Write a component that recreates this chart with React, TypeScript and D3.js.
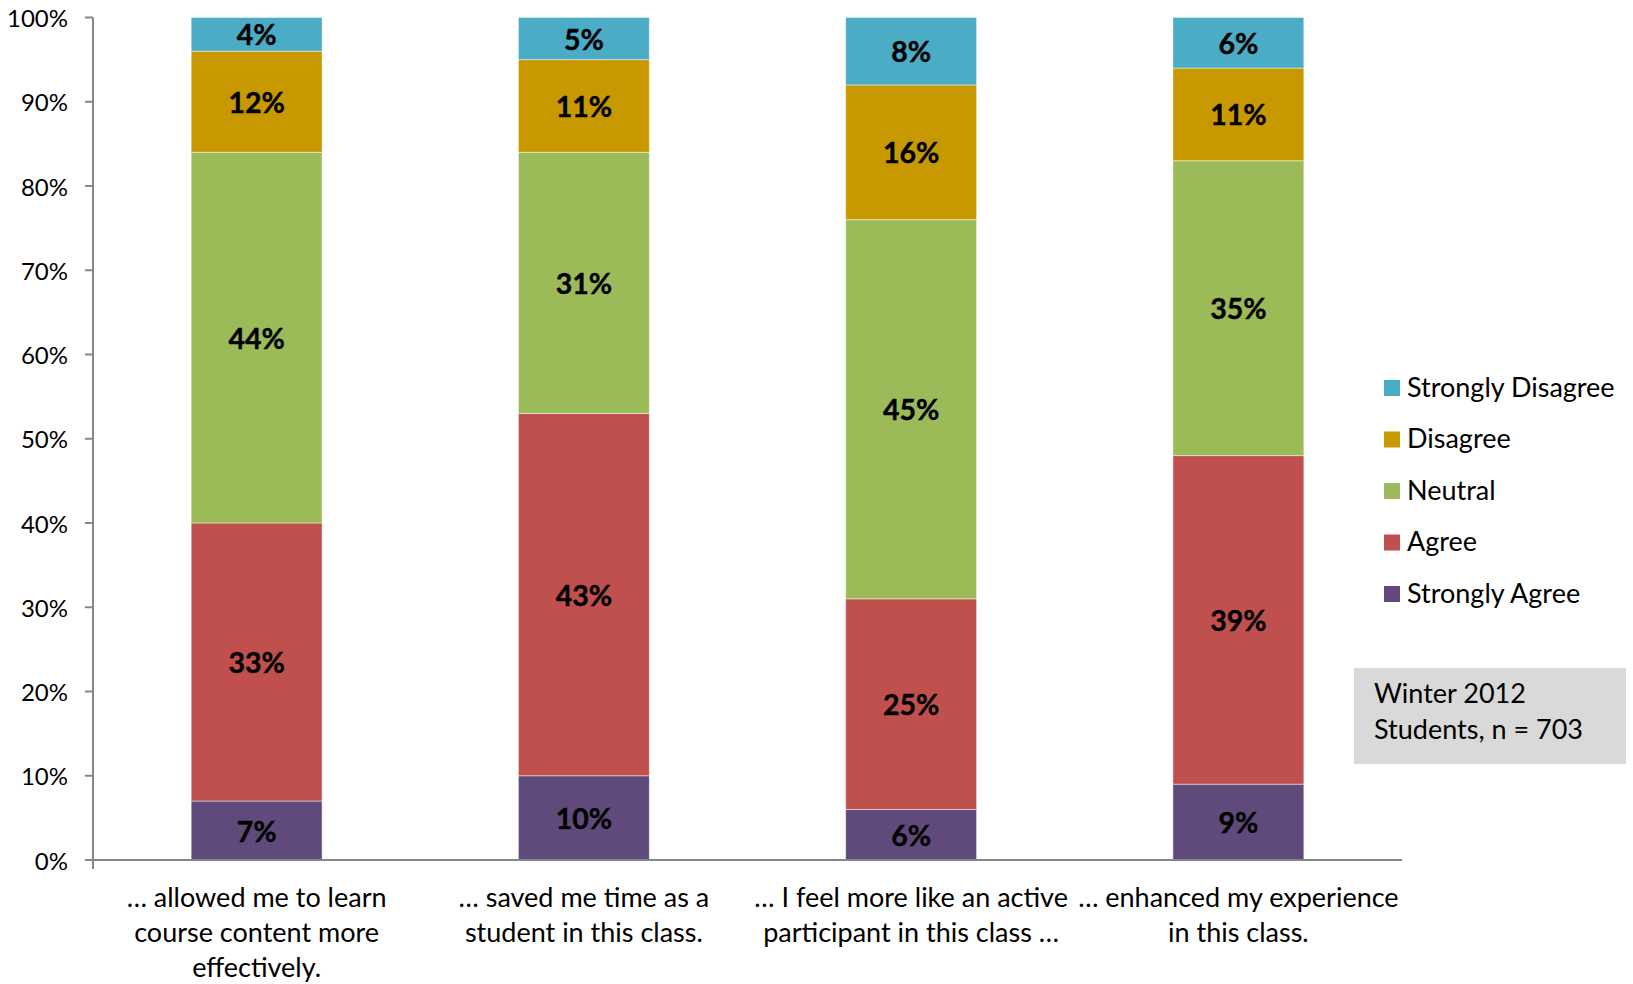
import React from "react";
import * as d3 from "d3";

const categories = [
  ["… allowed me to learn", "course content more", "effectively."],
  ["… saved me time as a", "student in this class."],
  ["… I feel more like an active", "participant in this class …"],
  ["… enhanced my experience", "in this class."],
];
const seriesNames = ["Strongly Agree", "Agree", "Neutral", "Disagree", "Strongly Disagree"];
const seriesColors = ["#604A7B", "#C0504D", "#9BBB59", "#C89800", "#4BACC6"];
const stronglyAgree = [7, 10, 6, 9];
const agree = [33, 43, 25, 39];
const neutral = [44, 31, 45, 35];
const disagree = [12, 11, 16, 11];
const stronglyDisagree = [4, 5, 8, 6];
const yTicks = [0, 10, 20, 30, 40, 50, 60, 70, 80, 90, 100];
const noteLines = ["Winter 2012", "Students, n = 703"];

const FONT = "Lato, 'Noto Sans', sans-serif";

export default function App() {
  const W = 1633, H = 984;
  const left = 93, right = 1402, top = 17.5, bottom = 860;
  const series = [stronglyAgree, agree, neutral, disagree, stronglyDisagree];
  const rows = categories.map((_, i) => {
    const r: any = { idx: i };
    seriesNames.forEach((s, j) => (r[s] = series[j][i]));
    return r;
  });
  const stacked = d3.stack<any>().keys(seriesNames)(rows);
  const x = d3.scaleBand<number>().domain(categories.map((_, i) => i)).range([left, right]).paddingInner(0.6).paddingOuter(0.3);
  const y = d3.scaleLinear().domain([0, 100]).range([bottom, top]);
  const legendOrder = [4, 3, 2, 1, 0];

  return (
    <svg width={W} height={H} style={{ position: "absolute", left: 0, top: 0, background: "#fff" }} fontFamily={FONT}>
      {stacked.map((layer, j) => (
        <g key={j}>
          {layer.map((d, i) => (
            <g key={i}>
              <rect x={x(i)} y={y(d[1])} width={x.bandwidth()} height={y(d[0]) - y(d[1])} fill={seriesColors[j]} stroke="rgba(255,255,255,0.45)" strokeWidth={1} />
              <text x={(x(i) as number) + x.bandwidth() / 2} y={(y(d[0]) + y(d[1])) / 2} textAnchor="middle" dominantBaseline="central" fontWeight="bold" fontSize={28.5} fill="#000" stroke="#000" strokeWidth={0.4}>
                {series[j][i]}%
              </text>
            </g>
          ))}
        </g>
      ))}
      <line x1={left} x2={left} y1={top} y2={bottom + 9} stroke="#868686" strokeWidth={2} />
      <line x1={left - 8} x2={right} y1={bottom} y2={bottom} stroke="#868686" strokeWidth={2} />
      {yTicks.map((t) => (
        <g key={t}>
          <line x1={left - 8} x2={left} y1={y(t)} y2={y(t)} stroke="#868686" strokeWidth={2} />
          <text x={68} y={y(t)} textAnchor="end" dominantBaseline="central" fontSize={24} fill="#000">{t}%</text>
        </g>
      ))}
      {categories.map((lines, i) => (
        <text key={i} x={(x(i) as number) + x.bandwidth() / 2} textAnchor="middle" fontSize={27} fill="#000">
          {lines.map((l, k) => (
            <tspan key={k} x={(x(i) as number) + x.bandwidth() / 2} y={907 + k * 35}>{l}</tspan>
          ))}
        </text>
      ))}
      {legendOrder.map((j, k) => (
        <g key={j} transform={`translate(1384, ${388 + k * 51.5})`}>
          <rect x={0} y={-8} width={16} height={16} fill={seriesColors[j]} />
          <text x={23} y={-2} dominantBaseline="central" fontSize={27} fill="#000">{seriesNames[j]}</text>
        </g>
      ))}
      <rect x={1354} y={668} width={272} height={96} fill="#D9D9D9" />
      {noteLines.map((l, k) => (
        <text key={k} x={1374} y={703 + k * 36} fontSize={27} fill="#000">{l}</text>
      ))}
    </svg>
  );
}
